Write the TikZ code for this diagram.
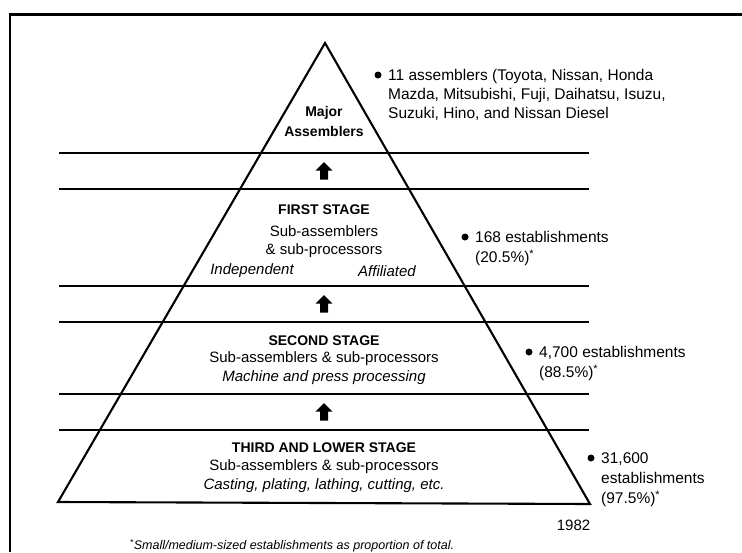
\documentclass[tikz,border=0pt]{standalone}
\usepackage{fontspec}
\setmainfont{Liberation Sans}
\usetikzlibrary{calc}
\begin{document}
\begin{tikzpicture}[x=1pt,y=-1pt,
  frame/.style={line width=2.6pt},
  pyr/.style={line width=2.1pt},
  tier/.style={line width=2.2pt},
  lbl/.style={inner sep=0pt,font=\fontsize{15}{17}\selectfont},
  ital/.style={inner sep=0pt,font=\fontsize{15}{17}\selectfont\itshape},
  head/.style={inner sep=0pt,font=\fontsize{14}{16}\selectfont\bfseries},
  note/.style={inner sep=0pt,anchor=north west,align=left,font=\fontsize{15.5}{20}\selectfont},
  dot/.style={circle,fill=black,inner sep=0pt,minimum size=7pt},
  uparrow/.style={fill=black}]
\useasboundingbox (0,0) rectangle (742,552);

% outer frame (top and left edges)
\draw[frame] (742,14.5) -- (10,14.5) -- (10,552);

% pyramid outline
\coordinate (apex) at (325,43);
\coordinate (bl) at (58,502);
\coordinate (br) at (590,504);
\draw[pyr,line join=miter] (apex) -- (bl) -- (br) -- cycle;

% tier separators
\foreach \y in {153,189,286,322,394,430}
  \draw[tier] (59,\y) -- (589,\y);

% upward block arrows between tiers
\foreach \y/\n in {171/a1,304/a2,412/a3}{
  \coordinate (\n) at (324,\y);
  \fill[uparrow] ($(\n)+(-8.5,-0.5)$) -- ($(\n)+(0,-9)$) -- ($(\n)+(8.5,-0.5)$) -- ($(\n)+(4,-0.5)$)
    -- ($(\n)+(4,8.5)$) -- ($(\n)+(-4,8.5)$) -- ($(\n)+(-4,-0.5)$) -- cycle;
}

% tier labels
\node[head] (maj1) at (324,113) {Major};
\node[head] (maj2) at (324,131) {Assemblers};

\node[head] (s1h) at (324,210) {FIRST STAGE};
\node[lbl] (s1a) at (324,231) {Sub-assemblers};
\node[lbl] (s1b) at (324,251) {\& sub-processors};
\node[ital] (ind) at (252,271) {Independent};
\node[ital] (aff) at (387,271) {Affiliated};

\node[head] (s2h) at (324,341) {SECOND STAGE};
\node[lbl] (s2a) at (324,359) {Sub-assemblers \& sub-processors};
\node[ital] (s2b) at (324,378) {Machine and press processing};

\node[head] (s3h) at (324,448) {THIRD AND LOWER STAGE};
\node[lbl] (s3a) at (324,467) {Sub-assemblers \& sub-processors};
\node[ital] (s3b) at (324,486) {Casting, plating, lathing, cutting, etc.};

% annotations on the right
\node[dot] (d0) at (378,75) {};
\node[note,font=\fontsize{15.5}{19}\selectfont] (n0) at (388,69.4) {11 assemblers (Toyota, Nissan, Honda\\Mazda, Mitsubishi, Fuji, Daihatsu, Isuzu,\\Suzuki, Hino, and Nissan Diesel};

\node[dot] (d1) at (465,237) {};
\node[note] (n1) at (475,231.4) {168 establishments\\(20.5\%)\textsuperscript{*}};

\node[dot] (d2) at (529,352) {};
\node[note] (n2) at (539,346.4) {4,700 establishments\\(88.5\%)\textsuperscript{*}};

\node[dot] (d3) at (591,458) {};
\node[note] (n3) at (601,452.4) {31,600\\establishments\\(97.5\%)\textsuperscript{*}};

\node[lbl] (yr) at (573.5,525) {1982};

\node[inner sep=0pt,font=\fontsize{12.5}{15}\selectfont\itshape] (fn) at (292,546) {\textsuperscript{*}Small/medium-sized establishments as proportion of total.};
\end{tikzpicture}
\end{document}
